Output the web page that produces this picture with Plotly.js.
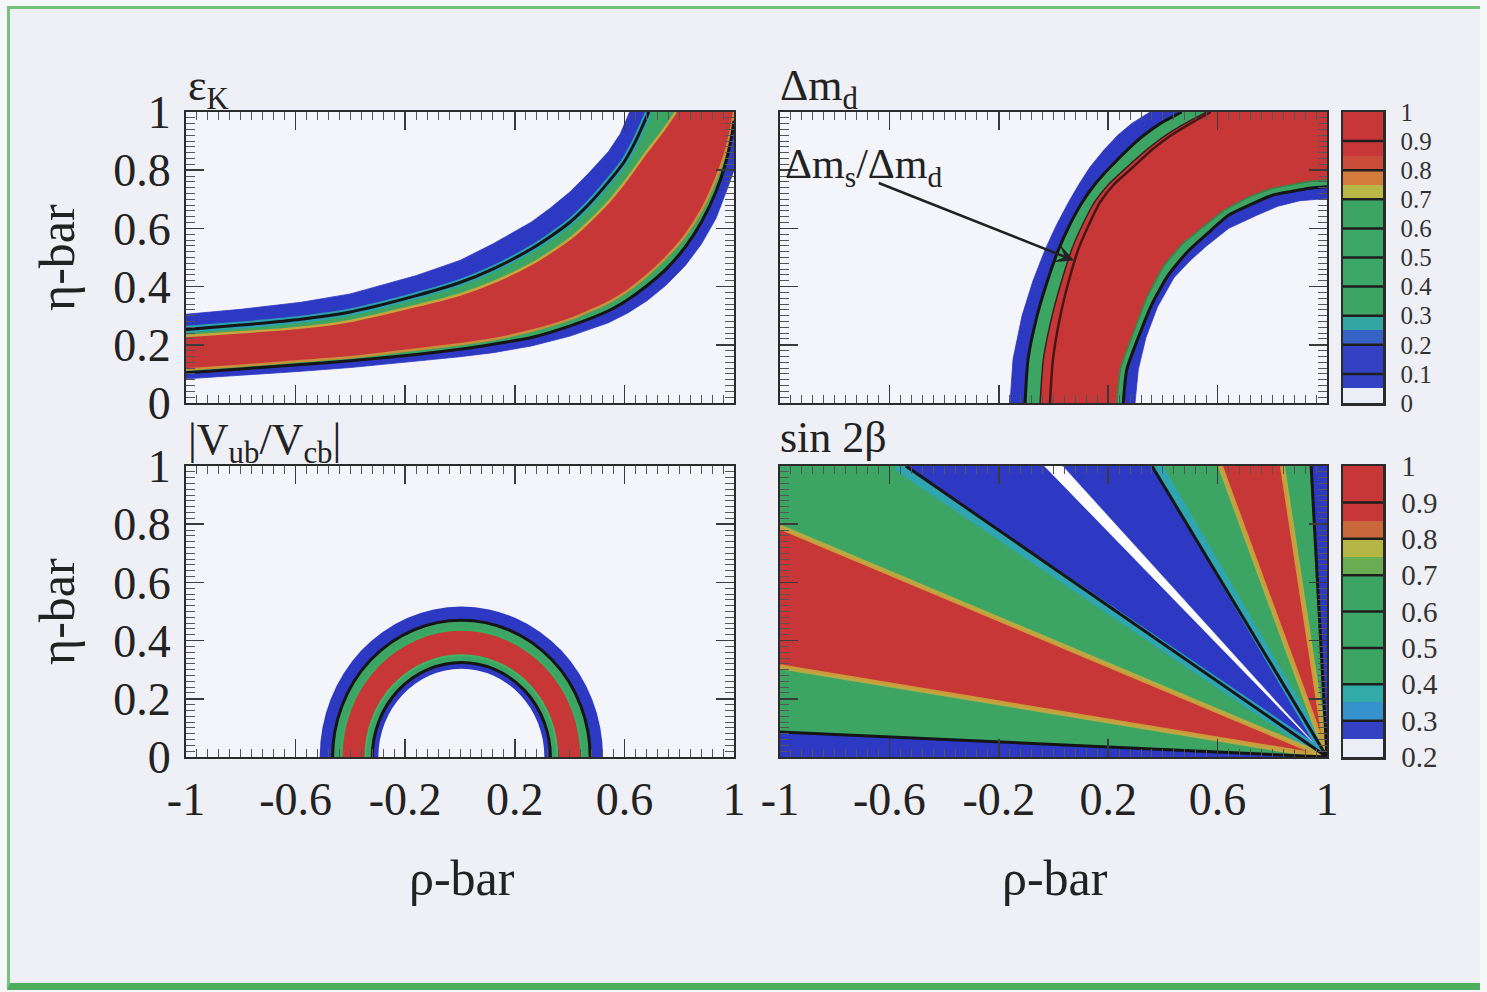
<!DOCTYPE html>
<html><head><meta charset="utf-8">
<script src="https://cdn.plot.ly/plotly-3.0.1.min.js"></script>
<style>
html,body{margin:0;padding:0;background:#f6f7f9;width:1487px;height:992px;overflow:hidden}
#frame{position:absolute;left:7px;top:6px;width:1470px;height:974px;background:#eef0f6;border-top:3px solid #74c37b;border-left:3px solid #74c37b;border-bottom:7px solid #4fae5e;}
#chart{position:absolute;left:0;top:0;width:1487px;height:992px}
</style></head><body><div id="frame"></div><div id="chart"></div>
<script>
// ---------- colours ----------
const RED='#c83737', GREEN='#3ca564', BLUE='#2d39c2', WHITE='#fcfcff', BG='#f4f5fb', BLACK='#151515', YEL='#c6a63c', TEAL='rgba(45,165,185,0.9)';
const F='"Liberation Serif","Times New Roman",serif';

// ---------- axis ticks ----------
const xTickVals=[-1,-0.6,-0.2,0.2,0.6,1];
const xTickText=['-1','-0.6','-0.2','0.2','0.6','1'];
const yTickVals=[0,0.2,0.4,0.6,0.8,1];
const yTickText=['0','0.2','0.4','0.6','0.8','1'];

// ---------- epsilon_K band boundaries ----------
const epsK_b1_x=[-1,-0.8,-0.58,-0.4,-0.159,0,0.121,0.261,0.33,0.402,0.47,0.542,0.585,0.619];
const epsK_b1_y=[0.305,0.322,0.346,0.375,0.438,0.49,0.547,0.622,0.67,0.726,0.79,0.864,0.925,1.0];
const epsK_b2_x=[-1,-0.8,-0.58,-0.4,-0.159,0,0.121,0.261,0.33,0.402,0.47,0.542,0.6,0.64,0.689];
const epsK_b2_y=[0.253,0.268,0.288,0.313,0.369,0.414,0.461,0.530,0.572,0.622,0.683,0.760,0.83,0.898,1.0];
const epsK_b3_x=[-1,-0.8,-0.58,-0.4,-0.159,0,0.121,0.261,0.33,0.402,0.47,0.542,0.61,0.682,0.74,0.788];
const epsK_b3_y=[0.230,0.243,0.259,0.282,0.334,0.373,0.415,0.478,0.518,0.565,0.622,0.691,0.77,0.864,0.935,1.0];
const epsK_b4_x=[-1,-0.8,-0.58,-0.4,-0.159,0,0.121,0.261,0.402,0.542,0.612,0.682,0.752,0.822,0.88,0.934,0.965,0.990,1.0];
const epsK_b4_y=[0.115,0.128,0.144,0.157,0.184,0.202,0.219,0.248,0.288,0.346,0.386,0.438,0.50,0.576,0.66,0.770,0.85,0.945,1.0];
const epsK_b5_x=[-1,-0.8,-0.58,-0.4,-0.159,0,0.121,0.261,0.402,0.542,0.612,0.682,0.752,0.822,0.88,0.934,0.965,0.990,1.0];
const epsK_b5_y=[0.104,0.117,0.132,0.145,0.167,0.185,0.202,0.225,0.265,0.317,0.355,0.403,0.46,0.536,0.62,0.726,0.81,0.910,0.970];
const epsK_b6_x=[-1,-0.8,-0.58,-0.4,-0.159,0,0.121,0.261,0.402,0.542,0.612,0.682,0.752,0.822,0.88,0.934,0.976,1.0];
const epsK_b6_y=[0.083,0.095,0.109,0.122,0.144,0.159,0.173,0.196,0.230,0.276,0.309,0.351,0.405,0.472,0.545,0.634,0.737,0.80];

// ---------- Delta m_d band boundaries ----------
const dmd_outer_y=[0,0.15,0.30,0.42,0.526,0.61,0.69,0.75,0.81,0.87,0.92,0.96,1.0];
const dmd_b1_x=[-0.159,-0.148,-0.115,-0.075,-0.031,0.01,0.055,0.092,0.133,0.185,0.235,0.285,0.353];
const dmd_b2_x=[-0.104,-0.093,-0.06,-0.022,0.018,0.058,0.105,0.15,0.207,0.27,0.33,0.39,0.469];
const dmd_b3_x=[-0.049,-0.037,-0.005,0.03,0.066,0.105,0.15,0.20,0.268,0.34,0.41,0.48,0.56];
const dmd_ms_x=[-0.013,-0.002,0.025,0.056,0.09,0.128,0.17,0.22,0.29,0.36,0.43,0.50,0.575];
const dmd_b4_x=[0.231,0.245,0.292,0.34,0.402,0.47,0.548,0.63,0.718,0.80,0.865,0.93,1.0];
const dmd_b4_y=[0,0.12,0.24,0.36,0.469,0.545,0.606,0.665,0.709,0.737,0.749,0.76,0.766];
const dmd_b5_x=[0.255,0.268,0.31,0.36,0.42,0.49,0.56,0.64,0.728,0.80,0.87,0.935,1.0];
const dmd_b5_y=[0,0.115,0.225,0.34,0.44,0.52,0.58,0.645,0.685,0.714,0.727,0.738,0.743];
const dmd_b6_x=[0.298,0.31,0.338,0.38,0.44,0.50,0.56,0.64,0.743,0.82,0.901,1.0];
const dmd_b6_y=[0,0.115,0.225,0.33,0.43,0.49,0.54,0.60,0.645,0.676,0.695,0.703];
const cornerTR=[1,1];

// ---------- |Vub/Vcb| rings ----------
const vub_center=[0.005,0];
const vub_r=[0.517,0.470,0.437,0.350,0.325,0.303];
const vub_fill=[BLUE,GREEN,RED,GREEN,BLUE,BG];
const vub_black=[0.470,0.325];

// ---------- sin 2beta wedges ----------
const sin2b_apex=[1,0];
const sin2b_left_y=[0.086,0.31,0.79];
const sin2b_top_x=[-0.54,-0.033,0.035,0.36,0.61,0.837,0.942];
const sin2b_fill=[BLUE,GREEN,RED,GREEN,BLUE,WHITE,BLUE,GREEN,RED,GREEN,BLUE];
const sin2b_blackIdx=[0,3,6,9];
const sin2b_yellowIdx=[1,2,7,8];
const sin2b_teal_top_x=[-0.572,0.382];

// ---------- colour bars ----------
const cb1_levels=[0,0.1,0.2,0.3,0.4,0.5,0.6,0.7,0.8,0.9,1];
const cb1_labels=['0','0.1','0.2','0.3','0.4','0.5','0.6','0.7','0.8','0.9','1'];
const cb1_lower=['#eceef6','#3342c4','#3562c4',GREEN,'#3ca766','#3ca766',GREEN,'#b9b747','#c94c38',RED];
const cb1_upper=['#3342c4','#3342c4','#33a6a4',GREEN,'#3ca766','#3ca766',GREEN,'#d27b3b',RED,RED];
const cb2_levels=[0.2,0.3,0.4,0.5,0.6,0.7,0.8,0.9,1];
const cb2_labels=['0.2','0.3','0.4','0.5','0.6','0.7','0.8','0.9','1'];
const cb2_lower=['#eceef6','#3592cc',GREEN,'#3ca766',GREEN,'#6aac52','#c9683a',RED];
const cb2_upper=['#3342c4','#31aaa8',GREEN,'#3ca766',GREEN,'#b4b545',RED,RED];

// ---------- helpers ----------
const traces=[];
function poly(ax,ay,corner,bx,by,color,xr,yr){
  const x=ax.concat(corner?[corner[0]]:[],bx.slice().reverse());
  const y=ay.concat(corner?[corner[1]]:[],by.slice().reverse());
  traces.push({type:'scatter',mode:'lines',x,y,fill:'toself',fillcolor:color,
    line:{width:0.8,color:color},xaxis:xr,yaxis:yr,hoverinfo:'skip',showlegend:false});
}
function line(x,y,color,w,xr,yr,shape){
  traces.push({type:'scatter',mode:'lines',x,y,line:{color,width:w,shape:shape||'spline',smoothing:0.6},
    xaxis:xr,yaxis:yr,hoverinfo:'skip',showlegend:false});
}

// epsilon_K (x,y)
poly(epsK_b1_x,epsK_b1_y,cornerTR,epsK_b6_x,epsK_b6_y,BLUE,'x','y');
poly(epsK_b2_x,epsK_b2_y,cornerTR,epsK_b5_x,epsK_b5_y,GREEN,'x','y');
poly(epsK_b3_x,epsK_b3_y,null,epsK_b4_x,epsK_b4_y,RED,'x','y');
line(epsK_b3_x,epsK_b3_y,YEL,2.5,'x','y');
line(epsK_b4_x,epsK_b4_y,'#c8903a',2.5,'x','y');
line(epsK_b2_x,epsK_b2_y,'#2aa0b0',7,'x','y');
line(epsK_b2_x,epsK_b2_y,BLACK,3,'x','y');
line(epsK_b5_x,epsK_b5_y,BLACK,3,'x','y');

// Delta m_d (x2,y2)
poly(dmd_b1_x,dmd_outer_y,cornerTR,dmd_b6_x,dmd_b6_y,BLUE,'x2','y2');
poly(dmd_b2_x,dmd_outer_y,cornerTR,dmd_b5_x,dmd_b5_y,GREEN,'x2','y2');
poly(dmd_b3_x,dmd_outer_y,cornerTR,dmd_b4_x,dmd_b4_y,RED,'x2','y2');
line(dmd_b2_x,dmd_outer_y,BLACK,3,'x2','y2');
line(dmd_b3_x,dmd_outer_y,'#3a2020',1.5,'x2','y2');
line(dmd_ms_x,dmd_outer_y,'#4a1515',2.5,'x2','y2');
line(dmd_b4_x,dmd_b4_y,'#2f8a4a',1.5,'x2','y2');
line(dmd_b5_x,dmd_b5_y,BLACK,3,'x2','y2');

// sin 2beta (x4,y4)
const perim=[{x:-1,y:0,b:true}];
sin2b_left_y.forEach(v=>perim.push({x:-1,y:v,b:true}));
perim.push({x:-1,y:1,b:false});
sin2b_top_x.forEach(v=>perim.push({x:v,y:1,b:true}));
perim.push({x:1,y:1,b:true});
const regions=[]; let cur=[perim[0]];
for(let i=1;i<perim.length;i++){cur.push(perim[i]); if(perim[i].b){regions.push(cur); cur=[perim[i]];}}
regions.forEach((pts,k)=>{
  traces.push({type:'scatter',mode:'lines',
    x:[sin2b_apex[0]].concat(pts.map(p=>p.x),[sin2b_apex[0]]),
    y:[sin2b_apex[1]].concat(pts.map(p=>p.y),[sin2b_apex[1]]),
    fill:'toself',fillcolor:sin2b_fill[k],line:{width:0.5,color:sin2b_fill[k]},
    xaxis:'x4',yaxis:'y4',hoverinfo:'skip',showlegend:false});
});
const bounds=perim.filter(p=>p.b).slice(1,-1);
sin2b_teal_top_x.forEach(v=>line([sin2b_apex[0],v],[sin2b_apex[1],1],TEAL,9,'x4','y4','linear'));
sin2b_yellowIdx.forEach(i=>line([sin2b_apex[0],bounds[i].x],[sin2b_apex[1],bounds[i].y],'rgba(205,170,60,0.85)',5,'x4','y4','linear'));
sin2b_blackIdx.forEach(i=>line([sin2b_apex[0],bounds[i].x],[sin2b_apex[1],bounds[i].y],BLACK,3,'x4','y4','linear'));

// colour bars as heatmaps
function cbar(levels,lower,upper,xr,yr){
  const y=[],z=[],cols=[];
  for(let i=0;i<levels.length-1;i++){
    const lo=levels[i],hi=levels[i+1],q=(hi-lo)/4;
    y.push(lo+q); z.push([cols.length]); cols.push(lower[i]);
    y.push(hi-q); z.push([cols.length]); cols.push(upper[i]);
  }
  const n=cols.length;
  const cs=cols.map((c,k)=>[k/(n-1),c]);
  traces.push({type:'heatmap',x:[0.5],y,z,colorscale:cs,zmin:0,zmax:n-1,showscale:false,
    xaxis:xr,yaxis:yr,hoverinfo:'skip',zsmooth:false});
}
cbar(cb1_levels,cb1_lower,cb1_upper,'x5','y5');
cbar(cb2_levels,cb2_lower,cb2_upper,'x6','y6');

// ---------- shapes ----------
const shapes=[];
vub_r.forEach((r,k)=>shapes.push({type:'circle',xref:'x3',yref:'y3',x0:vub_center[0]-r,x1:vub_center[0]+r,
  y0:vub_center[1]-r,y1:vub_center[1]+r,fillcolor:vub_fill[k],line:{width:0},layer:'below'}));
vub_black.forEach(r=>shapes.push({type:'circle',xref:'x3',yref:'y3',x0:vub_center[0]-r,x1:vub_center[0]+r,
  y0:vub_center[1]-r,y1:vub_center[1]+r,fillcolor:'rgba(0,0,0,0)',line:{width:3,color:BLACK},layer:'below'}));
[[0.437,'#35b060'],[0.350,'#3fb566']].forEach(([r,c])=>shapes.push({type:'circle',xref:'x3',yref:'y3',
  x0:vub_center[0]-r,x1:vub_center[0]+r,y0:vub_center[1]-r,y1:vub_center[1]+r,fillcolor:'rgba(0,0,0,0)',line:{width:2,color:c},layer:'below'}));
function seps(levels,xr,yr){levels.slice(1,-1).forEach(v=>shapes.push({type:'line',xref:xr+' domain',yref:yr,x0:0,x1:1,y0:v,y1:v,line:{color:'#1e1e1e',width:2.5}}));}
seps(cb1_levels,'x5','y5'); seps(cb2_levels,'x6','y6');

// ---------- axes ----------
const W=1487,H=992;
const px=v=>v/W, py=v=>1-v/H;
function baseAx(dom,extra){
  return Object.assign({domain:dom,showgrid:false,zeroline:false,showline:true,linecolor:'#2b2b2b',linewidth:2,
    mirror:'allticks',ticks:'inside',ticklen:18,tickwidth:1.5,tickcolor:'#3a3a3a',fixedrange:true,
    tickfont:{family:F,size:46,color:'#222'}},extra);
}
function xax(dom,anchor,labels){
  return baseAx(dom,{anchor,range:[-1,1],tickmode:'array',tickvals:xTickVals,ticktext:xTickText,showticklabels:labels,
    ticklabelstandoff:1,minor:{tickmode:'linear',tick0:-1,dtick:0.04,ticks:'inside',ticklen:8,tickcolor:'#555',tickwidth:1}});
}
function yax(dom,anchor,labels){
  return baseAx(dom,{anchor,range:[0,1],tickmode:'array',tickvals:yTickVals,ticktext:yTickText,showticklabels:labels,
    ticklabelstandoff:4,minor:{tickmode:'linear',tick0:0,dtick:0.02,ticks:'inside',ticklen:9,tickcolor:'#555',tickwidth:1}});
}
const dxL=[px(186),px(734)], dxR=[px(780),px(1327)], dxC=[px(1343),px(1383)];
const dyT=[py(403),py(112)], dyB=[py(757),py(466)];
function cbx(dom,anchor){return {domain:dom,anchor,range:[0,1],showticklabels:false,ticks:'',showgrid:false,zeroline:false,
  showline:true,mirror:true,linecolor:'#2b2b2b',linewidth:2.5,fixedrange:true};}
function cby(dom,anchor,levels,labels,fs){return {domain:dom,anchor,range:[levels[0],levels[levels.length-1]],side:'right',
  tickmode:'array',tickvals:levels,ticktext:labels,ticks:'',showgrid:false,zeroline:false,showline:true,mirror:true,
  linecolor:'#2b2b2b',linewidth:2.5,ticklabelstandoff:10,fixedrange:true,tickfont:{family:F,size:fs,color:'#333'}};}

const ann=(text,x,y,o)=>Object.assign({xref:'paper',yref:'paper',x,y,text,showarrow:false,
  font:{family:F,size:44,color:'#222'}},o||{});
const axTitle={family:F,size:50,color:'#222'};
const annotations=[
  ann('ε<sub>K</sub>',px(186),py(112),{xanchor:'left',yanchor:'bottom',yshift:-6}),
  ann('Δm<sub>d</sub>',px(778),py(112),{xanchor:'left',yanchor:'bottom',yshift:-6}),
  ann('|V<sub>ub</sub>/V<sub>cb</sub>|',px(186),py(466),{xanchor:'left',yanchor:'bottom',yshift:-6}),
  ann('sin 2β',px(778),py(466),{xanchor:'left',yanchor:'bottom',yshift:2}),
  ann('η-bar',px(57),py(258),{textangle:-90,xanchor:'center',yanchor:'middle',font:axTitle}),
  ann('η-bar',px(57),py(612),{textangle:-90,xanchor:'center',yanchor:'middle',font:axTitle}),
  ann('ρ-bar',px(462),py(878),{xanchor:'center',yanchor:'middle',font:axTitle}),
  ann('ρ-bar',px(1055),py(878),{xanchor:'center',yanchor:'middle',font:axTitle}),
  {xref:'x2',yref:'y2',x:-0.99,y:0.81,text:'Δm<sub>s</sub>/Δm<sub>d</sub>',showarrow:false,xanchor:'left',yanchor:'middle',
   font:{family:F,size:42,color:'#222'}},
  {xref:'x2',yref:'y2',axref:'x2',ayref:'y2',x:0.075,y:0.49,ax:-0.65,ay:0.76,text:' ',showarrow:true,
   arrowhead:3,arrowsize:1.3,arrowwidth:2.5,arrowcolor:'#222',standoff:0,startstandoff:0}
];

const layout={width:W,height:H,margin:{l:0,r:0,t:0,b:0},paper_bgcolor:'rgba(0,0,0,0)',plot_bgcolor:BG,showlegend:false,
  xaxis:xax(dxL,'y',false), yaxis:yax(dyT,'x',true),
  xaxis2:xax(dxR,'y2',false), yaxis2:yax(dyT,'x2',false),
  xaxis3:xax(dxL,'y3',true), yaxis3:yax(dyB,'x3',true),
  xaxis4:xax(dxR,'y4',true), yaxis4:yax(dyB,'x4',false),
  xaxis5:cbx(dxC,'y5'), yaxis5:cby(dyT,'x5',cb1_levels,cb1_labels,25),
  xaxis6:cbx(dxC,'y6'), yaxis6:cby(dyB,'x6',cb2_levels,cb2_labels,29),
  shapes,annotations};
Plotly.newPlot('chart',traces,layout,{staticPlot:true,displayModeBar:false});
</script></body></html>
